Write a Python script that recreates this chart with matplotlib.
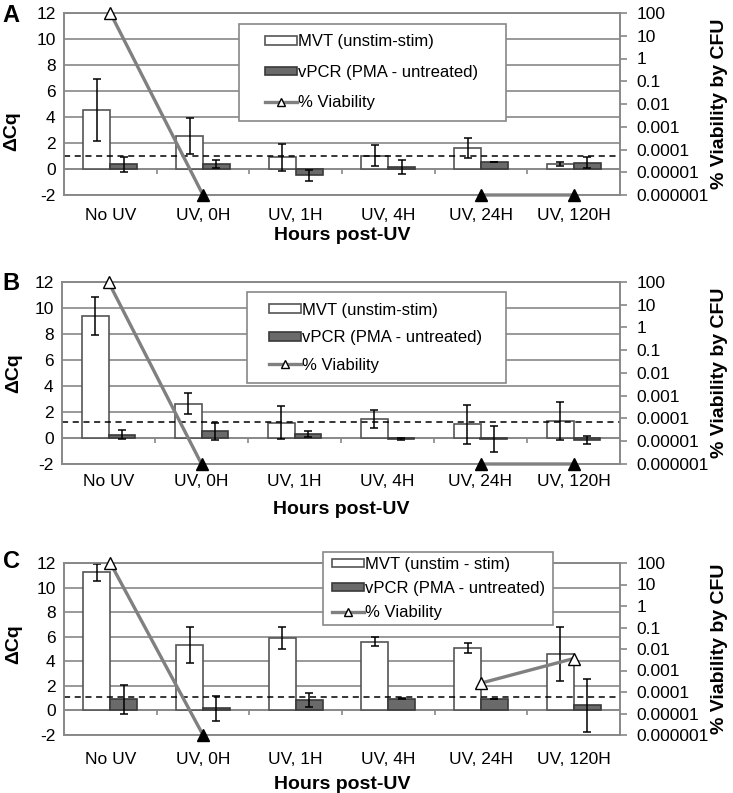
import matplotlib.pyplot as plt
import numpy as np
from matplotlib.patches import Patch, Rectangle
from matplotlib.lines import Line2D
from matplotlib.ticker import NullLocator

plt.rcParams['font.family'] = ['Liberation Sans', 'DejaVu Sans']
plt.rcParams['axes.unicode_minus'] = False

categories = ['No UV', 'UV, 0H', 'UV, 1H', 'UV, 4H', 'UV, 24H', 'UV, 120H']
viab_ticks = [1e-6, 1e-5, 1e-4, 1e-3, 1e-2, 1e-1, 1, 10, 100]
viab_ticklabels = ['0.000001', '0.00001', '0.0001', '0.001', '0.01', '0.1', '1', '10', '100']

# panel A
mvt_a = [4.55, 2.55, 0.92, 1.02, 1.62, 0.38]
mvt_err_a = [2.4, 1.38, 1.04, 0.8, 0.77, 0.18]
vpcr_a = [0.35, 0.36, -0.49, 0.15, 0.54, 0.49]
vpcr_err_a = [0.58, 0.3, 0.4, 0.56, 0.03, 0.42]
viab_a = [100, 1e-6, np.nan, np.nan, 1e-6, 1e-6]
detected_a = [True, False, False, False, False, False]
cutoff_a = 0.97

# panel B
mvt_b = [9.38, 2.63, 1.17, 1.46, 1.07, 1.33]
mvt_err_b = [1.48, 0.8, 1.28, 0.72, 1.5, 1.46]
vpcr_b = [0.25, 0.51, 0.3, -0.05, -0.05, -0.15]
vpcr_err_b = [0.33, 0.64, 0.23, 0.08, 1.0, 0.3]
viab_b = [100, 1e-6, np.nan, np.nan, 1e-6, 1e-6]
detected_b = [True, False, False, False, False, False]
cutoff_b = 1.23

# panel C
mvt_c = [11.23, 5.33, 5.9, 5.6, 5.07, 4.6]
mvt_err_c = [0.7, 1.48, 0.9, 0.37, 0.42, 2.17]
vpcr_c = [0.91, 0.16, 0.83, 0.94, 0.94, 0.42]
vpcr_err_c = [1.2, 1.03, 0.56, 0.05, 0.03, 2.14]
viab_c = [100, 1e-6, np.nan, np.nan, 2.6e-4, 3.6e-3]
detected_c = [True, False, False, False, True, True]
cutoff_c = 1.12

GRID = '#888888'
W, H = 733, 793

fig = plt.figure(figsize=(W / 100, H / 100), dpi=100)


def px_rect(left, top, right, bottom):
    return [left / W, 1 - bottom / H, (right - left) / W, (bottom - top) / H]


def draw_panel(rect, letter, letter_xy, mvt, mvt_err, vpcr, vpcr_err, viab, detected,
               cutoff, leg_rect, leg_anchor_x, leg_space, mvt_label, ylab_xy, ylab2_x,
               xpad, xlabpad):
    ax = fig.add_axes(rect)
    x = np.arange(len(categories))
    bw = 0.29
    ax.bar(x - bw / 2, mvt, bw, color='white', edgecolor='#555555', lw=1.2, zorder=2)
    ax.bar(x + bw / 2, vpcr, bw, color='#6a6a6a', edgecolor='#3a3a3a', lw=1.2, zorder=2)
    ax.errorbar(x - bw / 2, mvt, yerr=mvt_err, fmt='none', ecolor='black', elinewidth=1.1,
                capsize=3, capthick=1.1, zorder=3)
    ax.errorbar(x + bw / 2, vpcr, yerr=vpcr_err, fmt='none', ecolor='black', elinewidth=1.1,
                capsize=3, capthick=1.1, zorder=3)
    ax.axhline(cutoff, color='black', ls=(0, (4, 3)), lw=1.1, zorder=4)
    ax.axhline(0, color=GRID, lw=1.2, zorder=1.5)
    ax.vlines(x[:-1] + 0.5, -0.35, 0, color=GRID, lw=1.2, zorder=1.5)

    ax.set_xlim(-0.5, len(categories) - 0.5)
    ax.set_ylim(-2, 12)
    ax.set_yticks(range(-2, 13, 2))
    ax.set_xticks(x)
    ax.set_xticklabels(categories)
    ax.yaxis.grid(True, color=GRID, lw=1.2, zorder=0)
    ax.set_axisbelow(True)
    ax.tick_params(axis='x', length=0, pad=xpad, labelsize=12.5)
    ax.tick_params(axis='y', length=0, pad=6, labelsize=12.5)
    for s in ax.spines.values():
        s.set_color(GRID)
        s.set_linewidth(1.2)
    ax.set_xlabel('Hours post-UV', fontsize=14, fontweight='bold', labelpad=xlabpad)
    ax.set_ylabel('ΔCq', fontsize=14, fontweight='bold')
    ax.yaxis.set_label_coords(*ylab_xy)

    ax2 = ax.twinx()
    ax2.set_yscale('log')
    ax2.set_ylim(1e-6, 100)
    ax2.set_yticks(viab_ticks)
    ax2.set_yticklabels(viab_ticklabels)
    ax2.yaxis.set_minor_locator(NullLocator())
    ax2.tick_params(axis='y', length=5, width=1.2, color=GRID, pad=7, labelsize=12.5)
    for s in ax2.spines.values():
        s.set_color(GRID)
        s.set_linewidth(1.2)
    ax2.set_ylabel('% Viability by CFU', fontsize=14, fontweight='bold')
    ax2.yaxis.set_label_coords(ylab2_x, 0.5)

    v = np.array(viab, dtype=float)
    det = np.array(detected)
    ax2.plot(x, v, color='#808080', lw=2.4, zorder=3, clip_on=False)
    ax2.plot(x[det], v[det], ls='none', marker='^', ms=9, mfc='white', mec='black',
             mew=1.0, zorder=4, clip_on=False)
    low = ~det & ~np.isnan(v)
    ax2.plot(x[low], v[low], ls='none', marker='^', ms=9, mfc='black', mec='black',
             zorder=4, clip_on=False)

    # legend box
    lx, ly, lw_, lh = leg_rect
    ax2.add_patch(Rectangle((lx, ly), lw_, lh, transform=ax2.transAxes, facecolor='white',
                            edgecolor=GRID, lw=1.2, zorder=6, clip_on=False))
    handles = [Patch(facecolor='white', edgecolor='#555555', lw=1.2),
               Patch(facecolor='#6a6a6a', edgecolor='#3a3a3a', lw=1.2),
               Line2D([], [], color='#808080', lw=2.4, marker='^', ms=6, mfc='white',
                      mec='black', mew=1.0)]
    leg = ax2.legend(handles, [mvt_label, 'vPCR (PMA - untreated)', '% Viability'],
                     loc='center left', bbox_to_anchor=(leg_anchor_x, ly + lh / 2),
                     frameon=False, fontsize=12, borderpad=0, borderaxespad=0,
                     handlelength=1.9, handleheight=0.45, handletextpad=0.1,
                     labelspacing=leg_space)
    leg.set_zorder(7)

    fig.text(letter_xy[0] / W, 1 - letter_xy[1] / H, letter, fontsize=17, fontweight='bold',
             ha='center', va='center')
    return ax


draw_panel(px_rect(64, 13, 620, 195), 'A', (11, 15), mvt_a, mvt_err_a, vpcr_a, vpcr_err_a,
           viab_a, detected_a, cutoff_a, (0.315, 0.407, 0.48, 0.533), 0.3615, 0.93,
           'MVT (unstim-stim)', (-0.078, 0.35), 1.163, 9, 3)
draw_panel(px_rect(62, 282, 620, 464), 'B', (11, 283), mvt_b, mvt_err_b, vpcr_b, vpcr_err_b,
           viab_b, detected_b, cutoff_b, (0.3315, 0.445, 0.464, 0.5), 0.371, 0.75,
           'MVT (unstim-stim)', (-0.072, 0.5), 1.163, 7.5, 8)
draw_panel(px_rect(64, 563, 620, 735), 'C', (11, 561), mvt_c, mvt_err_c, vpcr_c, vpcr_err_c,
           viab_c, detected_c, cutoff_c, (0.466, 0.64, 0.4135, 0.424), 0.482, 0.54,
           'MVT (unstim - stim)', (-0.075, 0.53), 1.163, 12.5, 6)

fig.savefig('out.png', dpi=100)
